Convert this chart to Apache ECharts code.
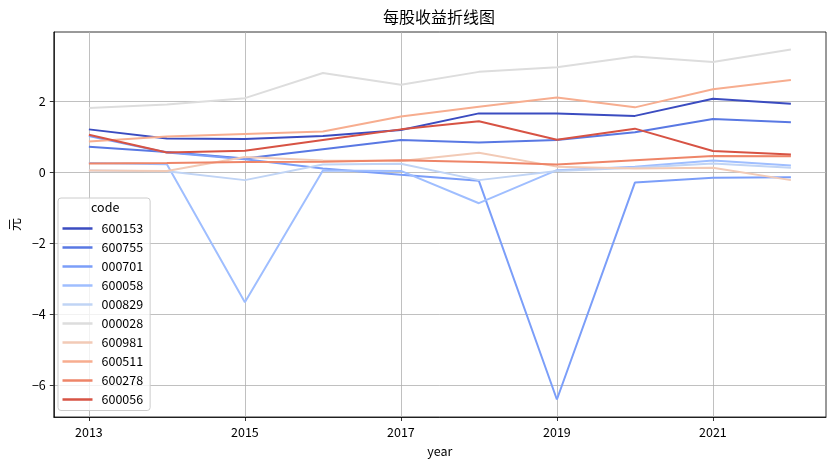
<!DOCTYPE html>
<html>
<head>
<meta charset="utf-8">
<script src="https://cdn.jsdelivr.net/npm/echarts@6/dist/echarts.min.js"></script>
<style>
    html, body { margin: 0; padding: 0; background: #fff; }
    #chart { width: 836px; height: 466px; }
</style>
</head>
<body>
<div id="chart"></div>
<script>
// 年份
const years = [2013, 2014, 2015, 2016, 2017, 2018, 2019, 2020, 2021, 2022];

// 每只股票的每股收益(元)
const codes = ['600153', '600755', '000701', '600058', '000829', '000028', '600981', '600511', '600278', '600056'];
const eps600153 = [1.21, 0.95, 0.94, 1.02, 1.19, 1.66, 1.66, 1.59, 2.07, 1.93];
const eps600755 = [0.72, 0.57, 0.39, 0.65, 0.91, 0.84, 0.91, 1.13, 1.50, 1.41];
const eps000701 = [1.02, 0.56, 0.37, 0.11, -0.07, -0.24, -6.40, -0.29, -0.15, -0.14];
const eps600058 = [0.26, 0.23, -3.66, 0.05, 0.04, -0.87, 0.06, 0.16, 0.33, 0.19];
const eps000829 = [0.05, 0.03, -0.22, 0.22, 0.24, -0.22, 0.04, 0.13, 0.25, 0.13];
const eps000028 = [1.81, 1.91, 2.09, 2.80, 2.47, 2.83, 2.96, 3.26, 3.11, 3.46];
const eps600981 = [0.05, 0.04, 0.43, 0.33, 0.32, 0.55, 0.16, 0.11, 0.13, -0.22];
const eps600511 = [0.87, 1.01, 1.08, 1.15, 1.57, 1.85, 2.11, 1.83, 2.34, 2.60];
const eps600278 = [0.25, 0.26, 0.29, 0.30, 0.34, 0.29, 0.22, 0.34, 0.46, 0.45];
const eps600056 = [1.06, 0.56, 0.61, 0.91, 1.21, 1.44, 0.92, 1.23, 0.60, 0.50];

// 刻度
const xTicks = [2013, 2015, 2017, 2019, 2021];
const yTicks = [-6, -4, -2, 0, 2];

const allEps = [eps600153, eps600755, eps000701, eps600058, eps000829,
    eps000028, eps600981, eps600511, eps600278, eps600056];

// coolwarm 取色
const colors = ['#3b4cc0', '#5978e3', '#7b9ef9', '#9fbeff', '#c0d4f5',
    '#dddddd', '#f2cab6', '#f7ad8f', '#ee8568', '#d75344'];

const FONT = 'Noto Sans CJK SC';

// matplotlib 式的 5% 留白
const pad = (lo, hi) => [lo - (hi - lo) * 0.05, hi + (hi - lo) * 0.05];
const flat = [].concat(...allEps);
const [yMin, yMax] = pad(Math.min(...flat), Math.max(...flat));
const [xMin, xMax] = pad(years[0], years[years.length - 1]);

const minus = v => String(v).replace('-', '\u2212');

const series = codes.map((code, i) => ({
    name: code,
    type: 'line',
    symbol: 'none',
    color: colors[i],
    lineStyle: { width: 2, color: colors[i] },
    data: years.map((y, j) => [y, allEps[i][j]])
}));

const chart = echarts.init(document.getElementById('chart'));

chart.setOption({
    animation: false,
    textStyle: { fontFamily: FONT },
    grid: {
        left: 51, right: 10, top: 32, bottom: 49,
        show: true, borderColor: '#000', borderWidth: 0.8
    },
    xAxis: {
        type: 'value',
        min: xMin,
        max: xMax,
        name: 'year',
        nameLocation: 'middle',
        nameGap: 28,
        nameTextStyle: { color: '#000', fontSize: 12.5, fontFamily: FONT },
        axisLine: { show: true, onZero: false, lineStyle: { color: '#000', width: 0.8 } },
        axisTick: { show: true, length: 4, customValues: xTicks, lineStyle: { color: '#000', width: 0.8 } },
        axisLabel: { customValues: xTicks, color: '#000', fontSize: 12.5, margin: 9, fontFamily: FONT, formatter: v => String(v) },
        splitLine: { show: true, lineStyle: { color: '#b0b0b0', width: 0.8 } }
    },
    yAxis: {
        type: 'value',
        min: yMin,
        max: yMax,
        name: '元',
        nameLocation: 'middle',
        nameGap: 30,
        nameRotate: 90,
        nameTextStyle: { color: '#000', fontSize: 13, fontFamily: FONT },
        axisLine: { show: true, onZero: false, lineStyle: { color: '#000', width: 0.8 } },
        axisTick: { show: true, length: 4, customValues: yTicks, lineStyle: { color: '#000', width: 0.8 } },
        axisLabel: { customValues: yTicks, color: '#000', fontSize: 12.5, margin: 8, fontFamily: FONT, formatter: minus },
        splitLine: { show: true, lineStyle: { color: '#b0b0b0', width: 0.8 } }
    },
    legend: {
        orient: 'vertical',
        left: 58,
        top: 198,
        padding: [21, 7, 1.5, 4.5],
        itemGap: 0,
        itemWidth: 30,
        itemHeight: 2.5,
        icon: 'rect',
        backgroundColor: 'rgba(255,255,255,0.8)',
        borderColor: '#cccccc',
        borderWidth: 1,
        borderRadius: 3,
        textStyle: { color: '#000', fontSize: 12.5, lineHeight: 19, padding: [0, 0, 0, 4], fontFamily: FONT },
        data: codes
    },
    graphic: [
        {
            type: 'text',
            left: 383, top: 9,
            z: 100,
            style: { text: '每股收益折线图', fontSize: 16, fontFamily: FONT, fill: '#000' }
        },
        {
            type: 'text',
            left: 91, top: 201,
            z: 100,
            style: { text: 'code', fontSize: 12.5, fontFamily: FONT, fill: '#000' }
        }
    ],
    series
});
</script>
</body>
</html>
